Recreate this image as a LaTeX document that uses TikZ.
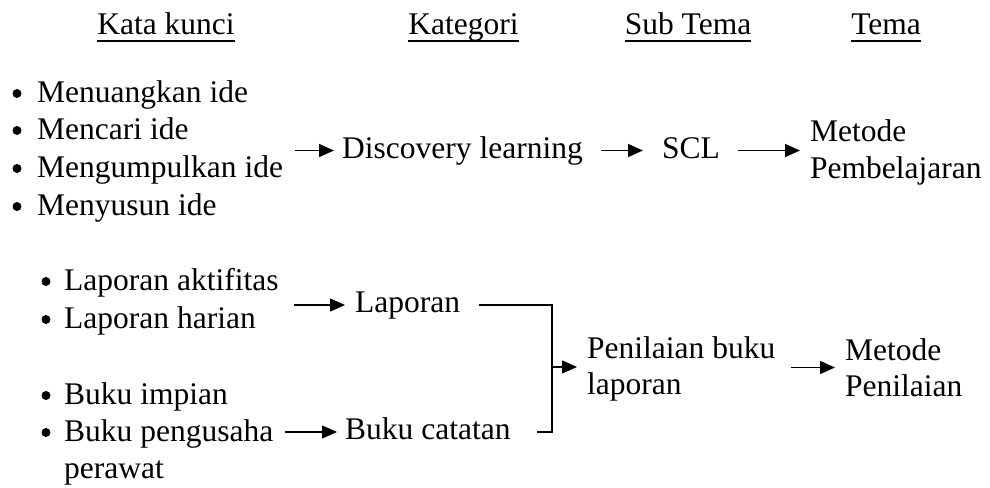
\documentclass[tikz,border=0pt]{standalone}
\usepackage{fontspec}
\setmainfont{Liberation Serif}
\usetikzlibrary{arrows.meta}
\tikzset{
  txt/.style={anchor=base west, inner sep=0pt, text height=22pt, text depth=7pt},
  dot/.style={circle, fill, inner sep=0pt, minimum size=9pt},
  blk/.style={anchor=west, inner sep=0pt, align=left, font=\fontsize{31.5pt}{36.5pt}\selectfont},
  hdr/.style={anchor=base, inner sep=0pt},
  uline/.style={line width=1.6pt},
  arr/.style={-{Triangle[length=15pt,width=13pt]}, line width=1.3pt},
  ln/.style={line width=1.4pt}
}

\begin{document}
\begin{tikzpicture}[x=1pt, y=-1pt, font=\fontsize{31.5pt}{37.7pt}\selectfont]
\useasboundingbox (0,0) rectangle (990,487);

% Judul kolom
\node[hdr] (hkunci) at (166,35) {Kata kunci};
\node[hdr] (hkat) at (463.5,35) {Kategori};
\node[hdr] (hsub) at (688,35) {Sub Tema};
\node[hdr] (htema) at (886,35) {Tema};
\foreach \h in {hkunci,hkat,hsub,htema}
    \draw[uline] ([yshift=-6pt]\h.base west) -- ([yshift=-6pt]\h.base east);

% Kata kunci (atas)
\foreach \n/\y/\t in {1/102/Menuangkan ide, 2/139/Mencari ide, 3/177/Mengumpulkan ide, 4/215/Menyusun ide} {
    \node[dot] (ba\n) at (17,\y-8.5) {};
    \node[txt] (ide\n) at (37,\y) {\t};
}

% Kategori, sub tema, tema (atas)
\node[txt] (disc) at (342,158) {Discovery learning};
\node[txt] (scl) at (662,158) {SCL};
\node[blk] (tema1) at (810,152.5) {Metode\\Pembelajaran};

\draw[arr, shorten <=12pt, shorten >=8pt] (ide3.east |- disc.west) -- (disc.west);
\draw[arr, shorten <=18pt, shorten >=19pt] (disc.east) -- (scl.west);
\draw[arr, shorten <=18pt, shorten >=10pt] (scl.east) -- (scl.east -| tema1.west);

% Kata kunci (bawah)
\foreach \n/\y/\t in {1/290/Laporan aktifitas, 2/328/Laporan harian, 3/404/Buku impian, 4/441/Buku pengusaha} {
    \node[dot] (bb\n) at (46,\y-8.5) {};
    \node[txt] (kb\n) at (64,\y) {\t};
}
\node[txt] (kb5) at (64,478) {perawat};

% Kategori, sub tema, tema (bawah)
\node[txt] (lap) at (355,312.5) {Laporan};
\node[txt] (cat) at (345,439.5) {Buku catatan};
\node[blk] (pen) at (587,369) {Penilaian buku\\laporan};
\node[blk] (tema2) at (845,367.5) {Metode\\Penilaian};
\coordinate (brk) at (552,367);

\draw[arr, shorten <=15pt, shorten >=10pt] (kb1.east |- lap.west) -- (lap.west);
\draw[arr, shorten <=12pt, shorten >=8pt] (kb4.east |- cat.west) -- (cat.west);
\draw[ln, shorten <=19pt, shorten >=26pt] (lap.east) -| (brk) |- (cat.east);
\draw[arr, shorten >=10pt] (brk) -- (brk -| pen.west);
\draw[arr, shorten <=15pt, shorten >=10pt] (pen.east |- tema2.west) -- (tema2.west);

\end{tikzpicture}
\end{document}
